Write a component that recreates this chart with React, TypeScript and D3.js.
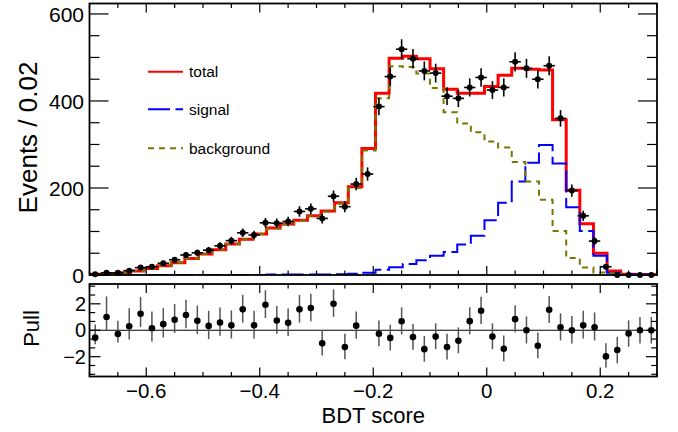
import React from 'react';
import * as d3 from 'd3';

// model histograms: 0.024 wide bins starting at -0.7
const MODEL_LO = -0.7;
const MODEL_BIN = 0.024;
const TOTAL = [2, 3, 5, 9, 15, 21, 28, 38, 48, 58, 71, 82, 94, 108, 117, 126, 136, 147, 166, 203, 291, 418, 498, 503, 497, 474, 427, 418, 418, 433, 459, 475, 473, 471, 357, 195, 118, 50, 9, 2, 1, 1];
const SIGNAL = [0, 0, 0, 0, 0, 0, 0, 0, 0, 0, 0, 0, 0, 1, 1, 1, 1, 1, 2, 3, 5, 12, 18, 25, 34, 44, 53, 70, 90, 126, 166, 215, 258, 299, 256, 156, 101, 44, 5, 2, 1, 0];
const BACKGROUND = [2, 3, 5, 9, 15, 21, 28, 38, 48, 58, 71, 82, 94, 107, 116, 125, 135, 146, 164, 200, 286, 406, 480, 478, 463, 430, 374, 348, 328, 307, 293, 260, 215, 173, 101, 39, 17, 6, 4, 0, 0, 0];

// data: 0.02 wide bins starting at -0.7
const DATA_LO = -0.7;
const DATA_BIN = 0.02;
const DATA = [2, 5, 5, 10, 17, 19, 27, 35, 46, 51, 57, 67, 79, 97, 92, 120, 119, 123, 146, 152, 130, 181, 157, 209, 232, 387, 456, 519, 497, 469, 464, 411, 406, 431, 454, 425, 431, 490, 475, 450, 481, 360, 194, 136, 78, 19, 0, 0, 0, 0];
const PULL = [-0.56, 1.0, -0.28, 0.3, 1.25, 0.15, 0.46, 0.79, 1.15, 0.71, 0.33, 0.59, 0.38, 1.58, 0.38, 1.93, 0.74, 0.56, 1.58, 1.68, -0.99, 2.01, -1.27, 0.35, -3.9, -0.27, -0.58, 0.68, -0.52, -1.43, -0.48, -1.27, -0.79, 0.69, 1.48, -0.48, -1.4, 0.84, 0, -1.17, 1.55, 0.23, 0, 0.38, 0.23, -1.98, -1.5, -0.25, 0, 0];
const PULL_UP = [1, 1.56, 1, 1.37, 1.27, 1.26, 1.21, 1.19, 1.15, 1.15, 1.14, 1.13, 1.12, 1.1, 1.1, 1.1, 1.1, 1.09, 1.09, 1.09, 1, 1.08, 1, 1.07, 1, 1, 1, 1.05, 1, 1, 1, 1, 1, 1.05, 1.05, 1, 1, 1.05, 1.05, 1, 1.05, 1.05, 1.07, 1.09, 1.12, 1, 1, 1, 1, 1];
const PULL_DN = [0.5, 1, 0.64, 1, 1, 1, 1, 1, 1, 1, 1, 1, 1, 1, 1, 1, 1, 1, 1, 1, 0.92, 1, 0.92, 1, 0.93, 0.95, 0.95, 1, 0.95, 0.95, 0.95, 0.95, 0.95, 1, 1, 0.95, 0.95, 1, 1, 0.95, 1, 1, 1, 1, 1, 0.85, 1, 1, 1, 1];

const X_TICKS = [-0.6, -0.4, -0.2, 0, 0.2];
const X_LABELS = ['\u22120.6', '\u22120.4', '\u22120.2', '0', '0.2'];
const Y_TICKS = [0, 200, 400, 600];
const PULL_TICKS = [-2, 0, 2];
const PULL_LABELS = ['\u22122', '0', '2'];

const LEGEND = [
  { label: 'total', color: '#ff0000', dash: '', y: 71.7 },
  { label: 'signal', color: '#0000ff', dash: '22,5.5', y: 109.3 },
  { label: 'background', color: '#767600', dash: '6,5', y: 148.3 },
];

const W = 678;
const H = 432;
const L = 89.5;
const R = 657;
const T1 = 3.5;
const B1 = 275;
const T2 = 284;
const B2 = 376.5;
const FONT = 'Liberation Sans, Arial, Helvetica, sans-serif';

const x = d3.scaleLinear().domain([-0.7, 0.3]).range([L, R]);
const y = d3.scaleLinear().domain([0, 624]).range([B1, T1]);
const yp = d3.scaleLinear().domain([-3.5, 3.5]).range([B2, T2]);

const stepLine = d3.line<[number, number]>()
  .x(d => x(d[0]))
  .y(d => y(d[1]))
  .curve(d3.curveStepAfter);

function histPath(vals: number[]) {
  const pts: [number, number][] = vals.map((v, i) => [MODEL_LO + i * MODEL_BIN, v]);
  pts.push([MODEL_LO + vals.length * MODEL_BIN, vals[vals.length - 1]]);
  return stepLine(pts) || '';
}

const round = (v: number) => Math.round(v * 1000) / 1000;
const xMinor = d3.range(-0.7, 0.3001, 0.05).map(round);
const yMinor = d3.range(0, 624, 50);
const pMinor = d3.range(-10, 11).map(i => (i * 2) / 3).filter(v => v > -3.5 && v < 3.5);

export default function App() {
  const frame = { fill: 'none', stroke: '#000', strokeWidth: 1.8 };
  const tick = { stroke: '#000', strokeWidth: 1.2 };

  const xTicks = (top: number, bottom: number) =>
    xMinor.map((v, i) => {
      const major = X_TICKS.some(t => Math.abs(t - v) < 1e-6);
      const len = major ? 9 : 4.5;
      return (
        <g key={i}>
          <line x1={x(v)} x2={x(v)} y1={bottom} y2={bottom - len} {...tick} />
          <line x1={x(v)} x2={x(v)} y1={top} y2={top + len} {...tick} />
        </g>
      );
    });

  return (
    <svg width={W} height={H} style={{ position: 'absolute', left: 0, top: 0, background: '#fff' }} fontFamily={FONT}>
      <defs>
        <clipPath id="upper">
          <rect x={L} y={T1} width={R - L} height={B1 - T1} />
        </clipPath>
      </defs>
      <rect x={0} y={0} width={W} height={H} fill="#fff" />

      {/* upper pad: model histograms */}
      <g clipPath="url(#upper)" fill="none">
        <path d={histPath(TOTAL)} stroke="#ff0000" strokeWidth={3} />
        <path d={histPath(SIGNAL)} stroke="#0000ff" strokeWidth={2} strokeDasharray="22,5.5" />
        <path d={histPath(BACKGROUND)} stroke="#767600" strokeWidth={2} strokeDasharray="6,5" />
      </g>

      {/* data points */}
      <g stroke="#000" strokeWidth={1.6}>
        {DATA.map((n, i) => {
          const c = DATA_LO + (i + 0.5) * DATA_BIN;
          const e = Math.sqrt(n);
          return (
            <g key={i}>
              <line x1={x(c - DATA_BIN / 2)} x2={x(c + DATA_BIN / 2)} y1={y(n)} y2={y(n)} />
              {n > 0 && <line x1={x(c)} x2={x(c)} y1={y(n - e)} y2={y(n + e)} />}
              <circle cx={x(c)} cy={y(n)} r={3} fill="#000" stroke="none" />
            </g>
          );
        })}
      </g>

      {/* upper frame + ticks */}
      <rect x={L} y={T1} width={R - L} height={B1 - T1} {...frame} />
      {xTicks(T1, B1)}
      {yMinor.map((v, i) => {
        const len = v % 200 === 0 ? 19 : 10;
        return (
          <g key={i}>
            <line x1={L} x2={L + len} y1={y(v)} y2={y(v)} {...tick} />
            <line x1={R} x2={R - len} y1={y(v)} y2={y(v)} {...tick} />
          </g>
        );
      })}
      {Y_TICKS.map(v => (
        <text key={v} x={84} y={y(v)} dy="0.36em" textAnchor="end" fontSize={21}>{v}</text>
      ))}
      <text transform={`translate(37,137.5) rotate(-90)`} textAnchor="middle" fontSize={26}>Events / 0.02</text>

      {/* legend */}
      {LEGEND.map(l => (
        <g key={l.label}>
          <line x1={148} x2={183} y1={l.y} y2={l.y} stroke={l.color} strokeWidth={2} strokeDasharray={l.dash || undefined} />
          <text x={189} y={l.y + 5.5} fontSize={15.5}>{l.label}</text>
        </g>
      ))}

      {/* lower pad: pulls */}
      <line x1={L} x2={R} y1={yp(0)} y2={yp(0)} stroke="#000" strokeWidth={1.2} />
      {PULL.map((p, i) => {
        if (p < -3.5 || p > 3.5) return null;
        const c = DATA_LO + (i + 0.5) * DATA_BIN;
        return (
          <g key={i}>
            <line x1={x(c)} x2={x(c)} y1={yp(Math.max(-3.5, p - PULL_DN[i]))} y2={yp(Math.min(3.5, p + PULL_UP[i]))} stroke="#555" strokeWidth={1.5} />
            <circle cx={x(c)} cy={yp(p)} r={3.3} fill="#000" />
          </g>
        );
      })}
      <rect x={L} y={T2} width={R - L} height={B2 - T2} {...frame} />
      {xTicks(T2, B2)}
      {pMinor.map((v, i) => {
        const major = PULL_TICKS.some(t => Math.abs(t - v) < 1e-6);
        const len = major ? 11 : 5.7;
        return (
          <g key={i}>
            <line x1={L} x2={L + len} y1={yp(v)} y2={yp(v)} {...tick} />
            <line x1={R} x2={R - len} y1={yp(v)} y2={yp(v)} {...tick} />
          </g>
        );
      })}
      {PULL_TICKS.map((v, i) => (
        <text key={v} x={86} y={yp(v)} dy="0.36em" textAnchor="end" fontSize={20}>{PULL_LABELS[i]}</text>
      ))}
      <text transform={`translate(39,328.5) rotate(-90)`} textAnchor="middle" fontSize={22}>Pull</text>

      {X_TICKS.map((v, i) => (
        <text key={v} x={x(v)} y={397.5} textAnchor="middle" fontSize={20.5}>{X_LABELS[i]}</text>
      ))}
      <text x={(L + R) / 2} y={422.5} textAnchor="middle" fontSize={22}>BDT score</text>
    </svg>
  );
}
